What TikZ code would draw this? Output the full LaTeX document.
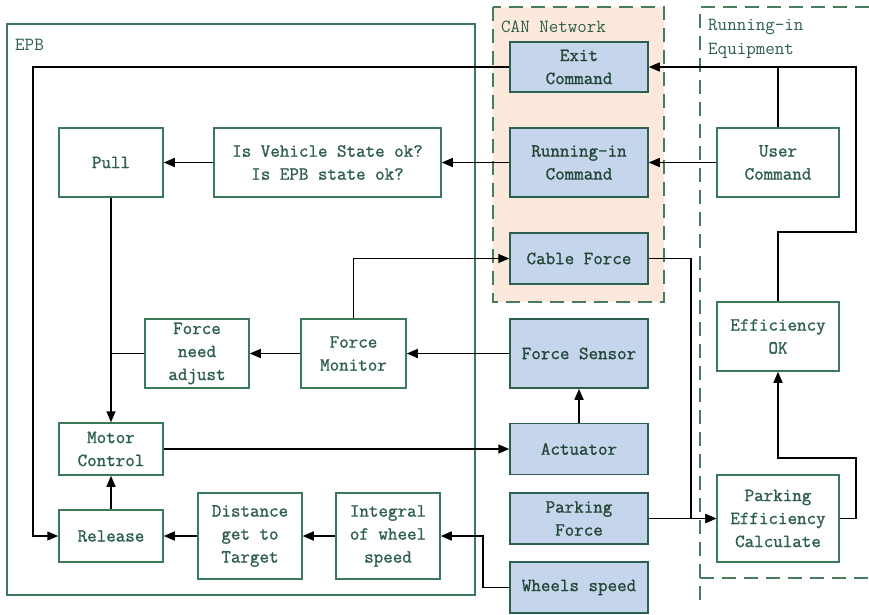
\documentclass[tikz,border=0pt]{standalone}
\usepackage{fontspec}
\setmonofont{Latin Modern Mono}[BoldFont={Latin Modern Mono}, BoldFeatures={FakeBold=1.2}]
\usetikzlibrary{arrows.meta}
\definecolor{txtc}{RGB}{45,95,75}
\definecolor{boxc}{RGB}{60,120,90}
\definecolor{bboxc}{RGB}{45,95,80}
\definecolor{bluef}{RGB}{197,213,236}
\definecolor{peach}{RGB}{252,233,219}
\definecolor{dashc}{RGB}{70,125,95}
\tikzset{
  gbox/.style 2 args={draw=boxc, line width=1.5pt, fill=white, text=txtc, align=center,
    minimum width=#1pt, minimum height=#2pt, inner sep=0pt, font=\ttfamily\bfseries\fontsize{18.5}{23}\selectfont},
  bbox/.style 2 args={draw=bboxc, line width=1.5pt, fill=bluef, text=txtc!75!black, align=center,
    minimum width=#1pt, minimum height=#2pt, inner sep=0pt, font=\ttfamily\bfseries\fontsize{18.5}{23}\selectfont},
  lbl/.style={text=txtc, anchor=west, inner sep=0pt, font=\ttfamily\fontsize{18.5}{24}\selectfont},
  conn/.style={draw=black, line width=1.5pt},
  arr/.style={conn, -{Triangle[length=11pt,width=9pt]}},
  dbox/.style={draw=dashc, line width=2pt, dash pattern=on 14pt off 8pt}
}
\begin{document}
\begin{tikzpicture}[x=1pt,y=-1pt]
\useasboundingbox (0,0) rectangle (869,614);
% containers
\fill[white] (0,0) rectangle (869,614);
\draw[draw=boxc, line width=1.5pt] (7,24) rectangle (475,595);
\node[lbl] (epbl) at (15,45) {EPB};
\fill[peach] (493,7) rectangle (664,302);
\draw[dbox] (493,7) rectangle (664,302);
\node[lbl] (canl) at (501,27) {CAN Network};
\draw[dbox] (700,600) -- (700,7) -- (880,7);
\draw[dbox] (700,578) -- (880,578);
\node[lbl, align=left, text width=150pt] (rel) at (708,39) {Running-in\\Equipment};
% CAN / hardware boxes
\node[bbox={138}{50}] (exit) at (579,67) {Exit\\Command};
\node[bbox={138}{69}] (rcmd) at (579,162.5) {Running-in\\Command};
\node[bbox={138}{51}] (cable) at (579,258.5) {Cable Force};
\node[bbox={138}{69}] (fs) at (579,353.5) {Force Sensor};
\node[bbox={138}{51}] (act) at (579,449) {Actuator};
\node[bbox={138}{51}] (pf) at (579,518.5) {Parking\\Force};
\node[bbox={138}{51}] (ws) at (579,587.5) {Wheels speed};
% running-in equipment boxes
\node[gbox={122}{69}] (uc) at (778,162.5) {User\\Command};
\node[gbox={122}{69}] (eff) at (778,336.5) {Efficiency\\OK};
\node[gbox={122}{87}] (pec) at (778,518.5) {Parking\\Efficiency\\Calculate};
% EPB boxes
\node[gbox={104}{69}] (pull) at (111,162.5) {Pull};
\node[gbox={227}{69}] (isv) at (327.5,162.5) {Is Vehicle State ok?\\Is EPB state ok?};
\node[gbox={104}{69}] (fna) at (197,353.5) {Force\\need\\adjust};
\node[gbox={105}{69}] (fm) at (353.5,353.5) {Force\\Monitor};
\node[gbox={104}{52}] (mc) at (111,449) {Motor\\Control};
\node[gbox={104}{52}] (rls) at (111,536) {Release};
\node[gbox={104}{86}] (dist) at (250,536) {Distance\\get to\\Target};
\node[gbox={104}{86}] (intg) at (388,536) {Integral\\of wheel\\speed};
% helper coordinates
\coordinate (c1) at (33,67);
\coordinate (e1) at (778,232);
\coordinate (e2) at (856,232);
\coordinate (e3) at (856,67);
\coordinate (p1) at (856,518.5);
\coordinate (p2) at (856,458);
\coordinate (p3) at (778,458);
\coordinate (c2) at (691,258.5);
\coordinate (w1) at (483,587.5);
% connectors
\draw[arr] (exit.west) -- (c1) |- (rls.west);
\draw[arr] (eff.north) -- (e1) -- (e2) -- (e3) -- (exit.east);
\draw[conn] (uc.north) -- (uc.north |- exit.east);
\draw[arr] (uc.west) -- (rcmd.east);
\draw[arr] (rcmd.west) -- (isv.east);
\draw[arr] (isv.west) -- (pull.east);
\draw[arr] (pull.south) -- (mc.north);
\draw[conn] (fna.west) -- (fna.west -| pull.south);
\draw[arr] (fm.west) -- (fna.east);
\draw[arr] (fs.west) -- (fm.east);
\draw[arr] (fm.north) |- (cable.west);
\draw[arr] (cable.east) -- (c2) |- (pec.west);
\draw[arr] (pf.east) -- (pec.west);
\draw[arr] (pec.east) -- (p1) -- (p2) -- (p3) -- (eff.south);
\draw[arr] (mc.east) -- (act.west);
\draw[arr] (act.north) -- (fs.south);
\draw[arr] (rls.north) -- (mc.south);
\draw[arr] (dist.west) -- (rls.east);
\draw[arr] (intg.west) -- (dist.east);
\draw[arr] (ws.west) -- (w1) |- (intg.east);
\end{tikzpicture}
\end{document}
